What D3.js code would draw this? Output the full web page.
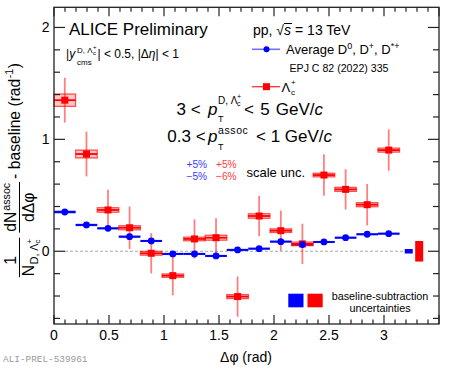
<!DOCTYPE html>
<html><head><meta charset="utf-8">
<script src="https://cdn.jsdelivr.net/npm/d3@7"></script>
<style>
body{margin:0;background:#fff}
svg{display:block}
text{font-family:"Liberation Sans",Arial,Helvetica,sans-serif;fill:#000;white-space:pre}
</style>
</head><body>
<script>
// ---------------- data ----------------
const binCenters = [0.098,0.295,0.491,0.687,0.884,1.080,1.277,1.473,1.669,1.865,2.062,2.258,2.454,2.651,2.847,3.043];
const binHalfWidth = 0.0982;
const dAvgY    = [0.351,0.235,0.205,0.130,0.092,-0.024,-0.024,-0.042,0.012,0.023,0.086,0.060,0.083,0.121,0.152,0.157];
const dAvgStat = [0.020,0.015,0.015,0.030,0.025,0.015,0.015,0.015,0.015,0.015,0.020,0.015,0.015,0.015,0.015,0.015];
const dAvgSys  = [0.016,0.012,0.010,0.012,0.010,0.010,0.010,0.010,0.010,0.010,0.010,0.010,0.010,0.010,0.010,0.010];
const lcY    = [1.350,0.869,0.369,0.210,-0.018,-0.218,0.110,0.121,-0.405,0.315,0.184,0.066,0.681,0.553,0.416,0.904];
const lcStat = [0.200,0.200,0.180,0.190,0.180,0.175,0.175,0.175,0.180,0.180,0.180,0.180,0.185,0.180,0.185,0.185];
const lcSys  = [0.055,0.035,0.020,0.018,0.017,0.015,0.016,0.022,0.018,0.020,0.016,0.016,0.016,0.018,0.018,0.018];
const baselineUncX = [3.225, 3.32];
const baselineUncHalf = [0.02, 0.092];
const zeroLineRange = [0.1, 3.2];
const xDomain = [0, 3.5];
const yDomain = [-0.65, 2.18];
const xTickLabels = ["0","0.5","1","1.5","2","2.5","3"];
const xTickValues = [0,0.5,1,1.5,2,2.5,3];
const yTickLabels = ["0","1","2"];
const yTickValues = [0,1,2];

// ---------------- layout ----------------
const W = 449, H = 369;
const mL = 54, mR = 439, mT = 7.3, mB = 324;
const svg = d3.select("body").append("svg").attr("width", W).attr("height", H);
const x = d3.scaleLinear().domain(xDomain).range([mL, mR]);
const y = d3.scaleLinear().domain(yDomain).range([mB, mT]);

const BLUE = "#0000ff", RED = "#ff0000";

function T(p, tx, ty, s, size, o = {}) {
  const t = p.append("text").attr("x", tx).attr("y", ty).attr("font-size", size).text(s);
  if (o.anchor) t.attr("text-anchor", o.anchor);
  if (o.italic) t.attr("font-style", "italic");
  if (o.fill) t.style("fill", o.fill);
  if (o.family) t.style("font-family", o.family);
  if (o.ws) t.style("word-spacing", o.ws + "px");
  if (o.ls) t.style("letter-spacing", o.ls + "px");
  return t;
}
function span(t, s, o = {}) {
  const sp = t.append("tspan").text(s);
  if (o.italic) sp.attr("font-style", "italic");
  if (o.size) sp.attr("font-size", o.size);
  if (o.dy) sp.attr("dy", o.dy);
  if (o.dx) sp.attr("dx", o.dx);
  return sp;
}
const len = t => t.node().getComputedTextLength();

// zero dashed line
svg.append("line")
  .attr("x1", x(zeroLineRange[0])).attr("x2", x(zeroLineRange[1]))
  .attr("y1", y(0)).attr("y2", y(0))
  .attr("stroke", "#aaa").attr("stroke-width", 1).attr("stroke-dasharray", "3,2");

// ---------------- D average ----------------
const gD = svg.append("g");
binCenters.forEach((c, i) => {
  gD.append("rect")
    .attr("x", x(c - binHalfWidth)).attr("width", x(c + binHalfWidth) - x(c - binHalfWidth))
    .attr("y", y(dAvgY[i] + dAvgSys[i])).attr("height", y(dAvgY[i] - dAvgSys[i]) - y(dAvgY[i] + dAvgSys[i]))
    .attr("fill", "rgba(70,70,255,0.45)");
  gD.append("line").attr("x1", x(c - binHalfWidth)).attr("x2", x(c + binHalfWidth))
    .attr("y1", y(dAvgY[i])).attr("y2", y(dAvgY[i])).attr("stroke", BLUE).attr("stroke-width", 2);
  gD.append("line").attr("x1", x(c)).attr("x2", x(c))
    .attr("y1", y(dAvgY[i] + dAvgStat[i])).attr("y2", y(dAvgY[i] - dAvgStat[i]))
    .attr("stroke", BLUE).attr("stroke-width", 1.5);
});

// ---------------- Lambda_c ----------------
const gL = svg.append("g");
binCenters.forEach((c, i) => {
  gL.append("rect")
    .attr("x", x(c - binHalfWidth)).attr("width", x(c + binHalfWidth) - x(c - binHalfWidth))
    .attr("y", y(lcY[i] + lcSys[i])).attr("height", y(lcY[i] - lcSys[i]) - y(lcY[i] + lcSys[i]))
    .attr("fill", "rgba(255,0,0,0.22)").attr("stroke", "rgba(255,0,0,0.65)").attr("stroke-width", 1.3);
  gL.append("line").attr("x1", x(c)).attr("x2", x(c))
    .attr("y1", y(lcY[i] + lcStat[i])).attr("y2", y(lcY[i] - lcStat[i]))
    .attr("stroke", "rgba(255,0,0,0.5)").attr("stroke-width", 1.8);
  gL.append("line").attr("x1", x(c - binHalfWidth)).attr("x2", x(c + binHalfWidth))
    .attr("y1", y(lcY[i])).attr("y2", y(lcY[i])).attr("stroke", RED).attr("stroke-width", 1.8);
});
binCenters.forEach((c, i) => {
  gL.append("rect").attr("x", x(c) - 3.5).attr("y", y(lcY[i]) - 3.5).attr("width", 7).attr("height", 7).attr("fill", RED);
});
const gDm = svg.append("g");
binCenters.forEach((c, i) => {
  gDm.append("circle").attr("cx", x(c)).attr("cy", y(dAvgY[i])).attr("r", 3.4).attr("fill", BLUE);
});

// baseline-subtraction uncertainty boxes
const bColors = [BLUE, RED];
baselineUncX.forEach((bx, i) => {
  svg.append("rect").attr("x", x(bx) - 4).attr("width", 8)
    .attr("y", y(baselineUncHalf[i])).attr("height", y(-baselineUncHalf[i]) - y(baselineUncHalf[i]))
    .attr("fill", bColors[i]);
});

// ---------------- axes / frame ----------------
const ax = svg.append("g").attr("stroke", "#222").attr("stroke-width", 1.2);
ax.append("rect").attr("x", mL).attr("y", mT).attr("width", mR - mL).attr("height", mB - mT)
  .attr("fill", "none").attr("stroke", "#222").attr("stroke-width", 1.3);
d3.range(0, 3.5001, 0.1).forEach(v => {
  const major = Math.abs(v * 2 - Math.round(v * 2)) < 1e-6;
  const l = major ? 9 : 4.5;
  ax.append("line").attr("x1", x(v)).attr("x2", x(v)).attr("y1", mB).attr("y2", mB - l);
  ax.append("line").attr("x1", x(v)).attr("x2", x(v)).attr("y1", mT).attr("y2", mT + l);
});
d3.range(-0.6, 2.1001, 0.2).forEach(v => {
  const major = Math.abs(v - Math.round(v)) < 1e-6;
  const l = major ? 11 : 6;
  ax.append("line").attr("y1", y(v)).attr("y2", y(v)).attr("x1", mL).attr("x2", mL + l);
  ax.append("line").attr("y1", y(v)).attr("y2", y(v)).attr("x1", mR).attr("x2", mR - l);
});
xTickValues.forEach((v, i) => T(svg, x(v), 340, xTickLabels[i], 14, {anchor: "middle"}));
yTickValues.forEach((v, i) => T(svg, 49.5, y(v) + 5, yTickLabels[i], 14, {anchor: "end"}));

T(svg, 246, 362, "Δφ (rad)", 14, {anchor: "middle"});

// y title (rotated)
(function () {
  const k = 1.12;
  const g = svg.append("g");
  const one = T(g, 0, -3.5, "1", 14 * k);
  const N = T(g, 1, 14, "N", 14 * k);
  let px = 1 + len(N) + 0.5;
  const sub = T(g, px, 18.5, "D, Λ", 9.5 * k);
  px += len(sub);
  const sc = T(g, px, 20.5, "c", 7 * k);
  T(g, px, 12.5, "+", 7 * k);
  px += len(sc) + 2;
  const W1 = px;
  one.attr("x", W1 / 2 - 3).attr("text-anchor", "middle");
  g.append("line").attr("x1", 0).attr("x2", W1).attr("y1", 0).attr("y2", 0).attr("stroke", "#000").attr("stroke-width", 1);
  const x2 = W1 + 5;
  const dN = T(g, 0, -3.5, "dN", 14 * k);
  const as = T(g, 0, -9.5, "assoc", 9.5 * k);
  const wn = len(dN) + len(as) + 1;
  const dd = T(g, 0, 14, "dΔφ", 14 * k);
  const wd = len(dd);
  const W2 = Math.max(wn, wd) + 2;
  dN.attr("x", x2 + (W2 - wn) / 2);
  as.attr("x", x2 + (W2 - wn) / 2 + len(dN) + 1);
  dd.attr("x", x2 + W2 / 2).attr("text-anchor", "middle");
  g.append("line").attr("x1", x2).attr("x2", x2 + W2).attr("y1", 0).attr("y2", 0).attr("stroke", "#000").attr("stroke-width", 1);
  const x3 = x2 + W2 + 3;
  const b = T(g, x3, 0, "- baseline (rad", 14 * k);
  let bx = x3 + len(b) + 0.5;
  const sup = T(g, bx, -6.5, "-1", 9.5 * k);
  bx += len(sup) + 0.5;
  const cl = T(g, bx, 0, ")", 14 * k);
  const L = bx + len(cl);
  const startY = 63 + L;
  g.attr("transform", `translate(19.5,${startY}) rotate(-90)`);
})();

// ---------------- texts ----------------
T(svg, 69, 35, "ALICE Preliminary", 17);
const ya = T(svg, 66, 58, "|", 12);
span(ya, "y", {italic: true});
T(svg, 77, 53, "D, Λ", 8);
T(svg, 93, 55, "c", 6);
T(svg, 93, 49, "+", 6);
T(svg, 77, 64.5, "cms", 8);
const yb = T(svg, 97.5, 58, "| < 0.5, |Δ", 12);
span(yb, "η", {italic: true});
span(yb, "| < 1");

// pp text
const pp = T(svg, 253, 35, "pp, ", 14);
const ppw = len(pp);
const sq = T(svg, 253 + ppw, 35, "√", 14);
const sx = 253 + ppw + len(sq);
const ss = T(svg, sx, 35, "s", 14, {italic: true});
svg.append("line").attr("x1", sx).attr("x2", sx + len(ss) + 1).attr("y1", 23.5).attr("y2", 23.5).attr("stroke", "#000").attr("stroke-width", 1);
T(svg, sx + len(ss) + 4, 35, "= 13 TeV", 14);

// legend
svg.append("line").attr("x1", 252).attr("x2", 280).attr("y1", 49.3).attr("y2", 49.3).attr("stroke", "#7070ff").attr("stroke-width", 1.6);
svg.append("circle").attr("cx", 266.5).attr("cy", 49.3).attr("r", 3).attr("fill", BLUE);
const avg = T(svg, 286, 53.5, "Average D", 13);
span(avg, "0", {size: 9, dy: -5});
span(avg, ", D", {size: 13, dy: 5});
span(avg, "+", {size: 9, dy: -5});
span(avg, ", D", {size: 13, dy: 5});
span(avg, "*+", {size: 9, dy: -5});
T(svg, 289.5, 71.7, "EPJ C 82 (2022) 335", 10.6);
svg.append("line").attr("x1", 252).attr("x2", 280).attr("y1", 86.7).attr("y2", 86.7).attr("stroke", "#ff3030").attr("stroke-width", 1.3);
svg.append("rect").attr("x", 263).attr("y", 83.2).attr("width", 7).attr("height", 7).attr("fill", RED);
T(svg, 281.5, 92, "Λ", 13);
T(svg, 291, 95, "c", 8);
T(svg, 291, 85, "+", 8);

// pT lines
T(svg, 176.5, 115, "3 <", 17);
T(svg, 208, 115, "p", 17, {italic: true});
T(svg, 218, 103.5, "D, Λ", 10);
T(svg, 237, 105.5, "c", 7);
T(svg, 237, 99, "+", 7);
T(svg, 218, 121.5, "T", 9);
const l1 = T(svg, 244, 115, "< 5 GeV/", 17, {ws: 1.5});
span(l1, "c", {italic: true});

T(svg, 167.3, 141.7, "0.3 <", 17);
T(svg, 208, 141.7, "p", 17, {italic: true});
T(svg, 218, 133.5, "assoc", 10.5, {ls: 0.6});
T(svg, 218, 150, "T", 9);
const l2 = T(svg, 256, 141.7, "< 1 GeV/", 17);
span(l2, "c", {italic: true});

// scale unc.
T(svg, 186.5, 168.3, "+5%", 10.2, {fill: "#3c3cff"});
T(svg, 186.5, 180, "−5%", 10.2, {fill: "#3c3cff"});
T(svg, 216, 168.3, "+5%", 10.2, {fill: "#ff3c3c"});
T(svg, 216, 180, "−6%", 10.2, {fill: "#ff3c3c"});
T(svg, 246.5, 176.5, "scale unc.", 13);

// baseline-subtraction legend
svg.append("rect").attr("x", 288.3).attr("y", 293.7).attr("width", 15.2).attr("height", 13.6).attr("fill", BLUE);
svg.append("rect").attr("x", 307.5).attr("y", 293.7).attr("width", 15.2).attr("height", 13.6).attr("fill", RED);
T(svg, 380, 300, "baseline-subtraction", 10.8, {anchor: "middle"});
T(svg, 380, 311.5, "uncertainties", 10.8, {anchor: "middle"});

T(svg, 3, 362, "ALI-PREL-539961", 9.4, {fill: "#9a9a9a", family: "'Liberation Mono','DejaVu Sans Mono',monospace"});
</script>
</body></html>
